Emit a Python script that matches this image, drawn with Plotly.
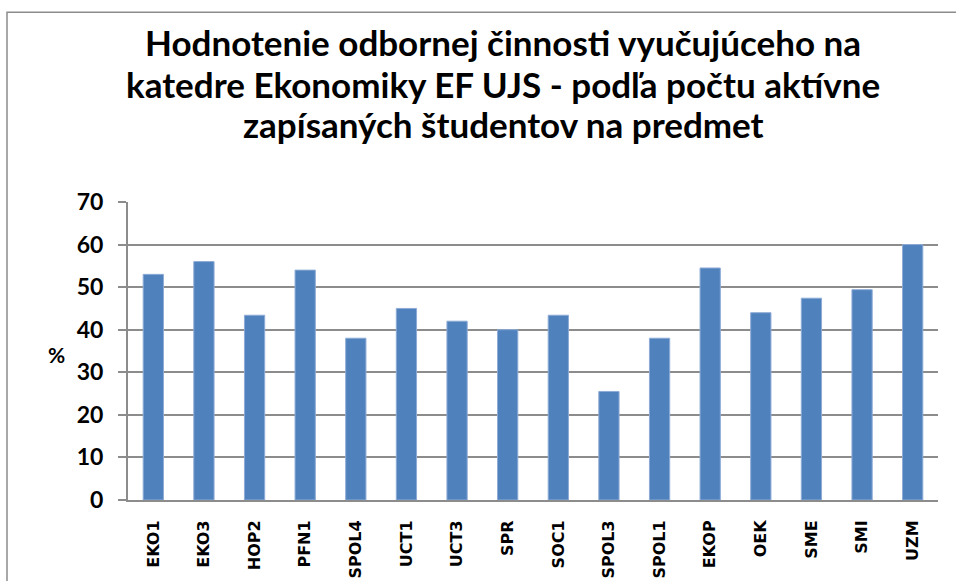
import plotly.graph_objects as go

categories = ["EKO1", "EKO3", "HOP2", "PFN1", "SPOL4", "UCT1", "UCT3", "SPR",
              "SOC1", "SPOL3", "SPOL1", "EKOP", "OEK", "SME", "SMI", "UZM"]
values = [53, 56, 43.4, 54, 38, 45, 42, 40,
          43.4, 25.5, 38, 54.5, 44, 47.4, 49.4, 60]
y_ticks = [0, 10, 20, 30, 40, 50, 60, 70]

title_lines = ["Hodnotenie odbornej činnosti vyučujúceho na",
               "katedre Ekonomiky EF UJS - podľa počtu aktívne",
               "zapísaných študentov na predmet"]

W, H = 956, 581
L, R, T, B = 128, 18, 201.7, 80.7
pw, ph = W - L - R, H - T - B

def px_x(x):
    return (x - L) / pw

def px_y(y):
    return (H - B - y) / ph

fig = go.Figure(go.Bar(
    x=categories, y=values,
    marker=dict(color="#4F81BD", line=dict(color="#8DAAD6", width=1)),
    width=0.4,
))

title_y = [41, 83, 124]
annotations = [dict(text=t, x=px_x(503), y=px_y(yy), xref="paper", yref="paper",
                    showarrow=False, xanchor="center", yanchor="middle",
                    font=dict(size=35, family="Lato, sans-serif", weight="bold", color="black"))
               for t, yy in zip(title_lines, title_y)]
annotations.append(dict(text="%", x=px_x(56), y=px_y(355), xref="paper", yref="paper",
                        showarrow=False, font=dict(size=21, family="Lato, sans-serif",
                                                   weight="bold", color="black"),
                        xanchor="center", yanchor="middle"))

fig.update_layout(
    width=W, height=H,
    margin=dict(l=L, r=R, t=T, b=B, autoexpand=False),
    paper_bgcolor="white", plot_bgcolor="white",
    showlegend=False,
    font=dict(family="Lato, sans-serif", color="black"),
    xaxis=dict(
        type="category", tickangle=-90,
        tickfont=dict(size=16, family="DejaVu Sans, sans-serif", weight="bold", color="black"),
        showline=True, linecolor="#8c8c8c", linewidth=2,
        showgrid=False, ticks="", ticklabelstandoff=12,
        range=[-0.5, len(categories) - 0.5], automargin=False,
    ),
    yaxis=dict(
        range=[0, 70], tickvals=y_ticks,
        tickfont=dict(size=23, family="Lato, sans-serif", weight="bold", color="black"),
        showline=True, linecolor="#8c8c8c", linewidth=2,
        showgrid=True, gridcolor="#8c8c8c", gridwidth=1.5,
        ticks="outside", ticklen=8, tickcolor="#8c8c8c", tickwidth=1.5,
        ticklabelstandoff=10, zeroline=False, automargin=False,
    ),
    annotations=annotations,
    shapes=[dict(type="rect", xref="paper", yref="paper",
                 x0=px_x(7), x1=px_x(990), y0=px_y(620), y1=px_y(11.5),
                 line=dict(color="#8c8c8c", width=1.5), layer="below")],
)

fig.write_html("out.html", config={"displayModeBar": False},
               post_script="document.body.style.margin='0';document.body.style.overflow='hidden';")
